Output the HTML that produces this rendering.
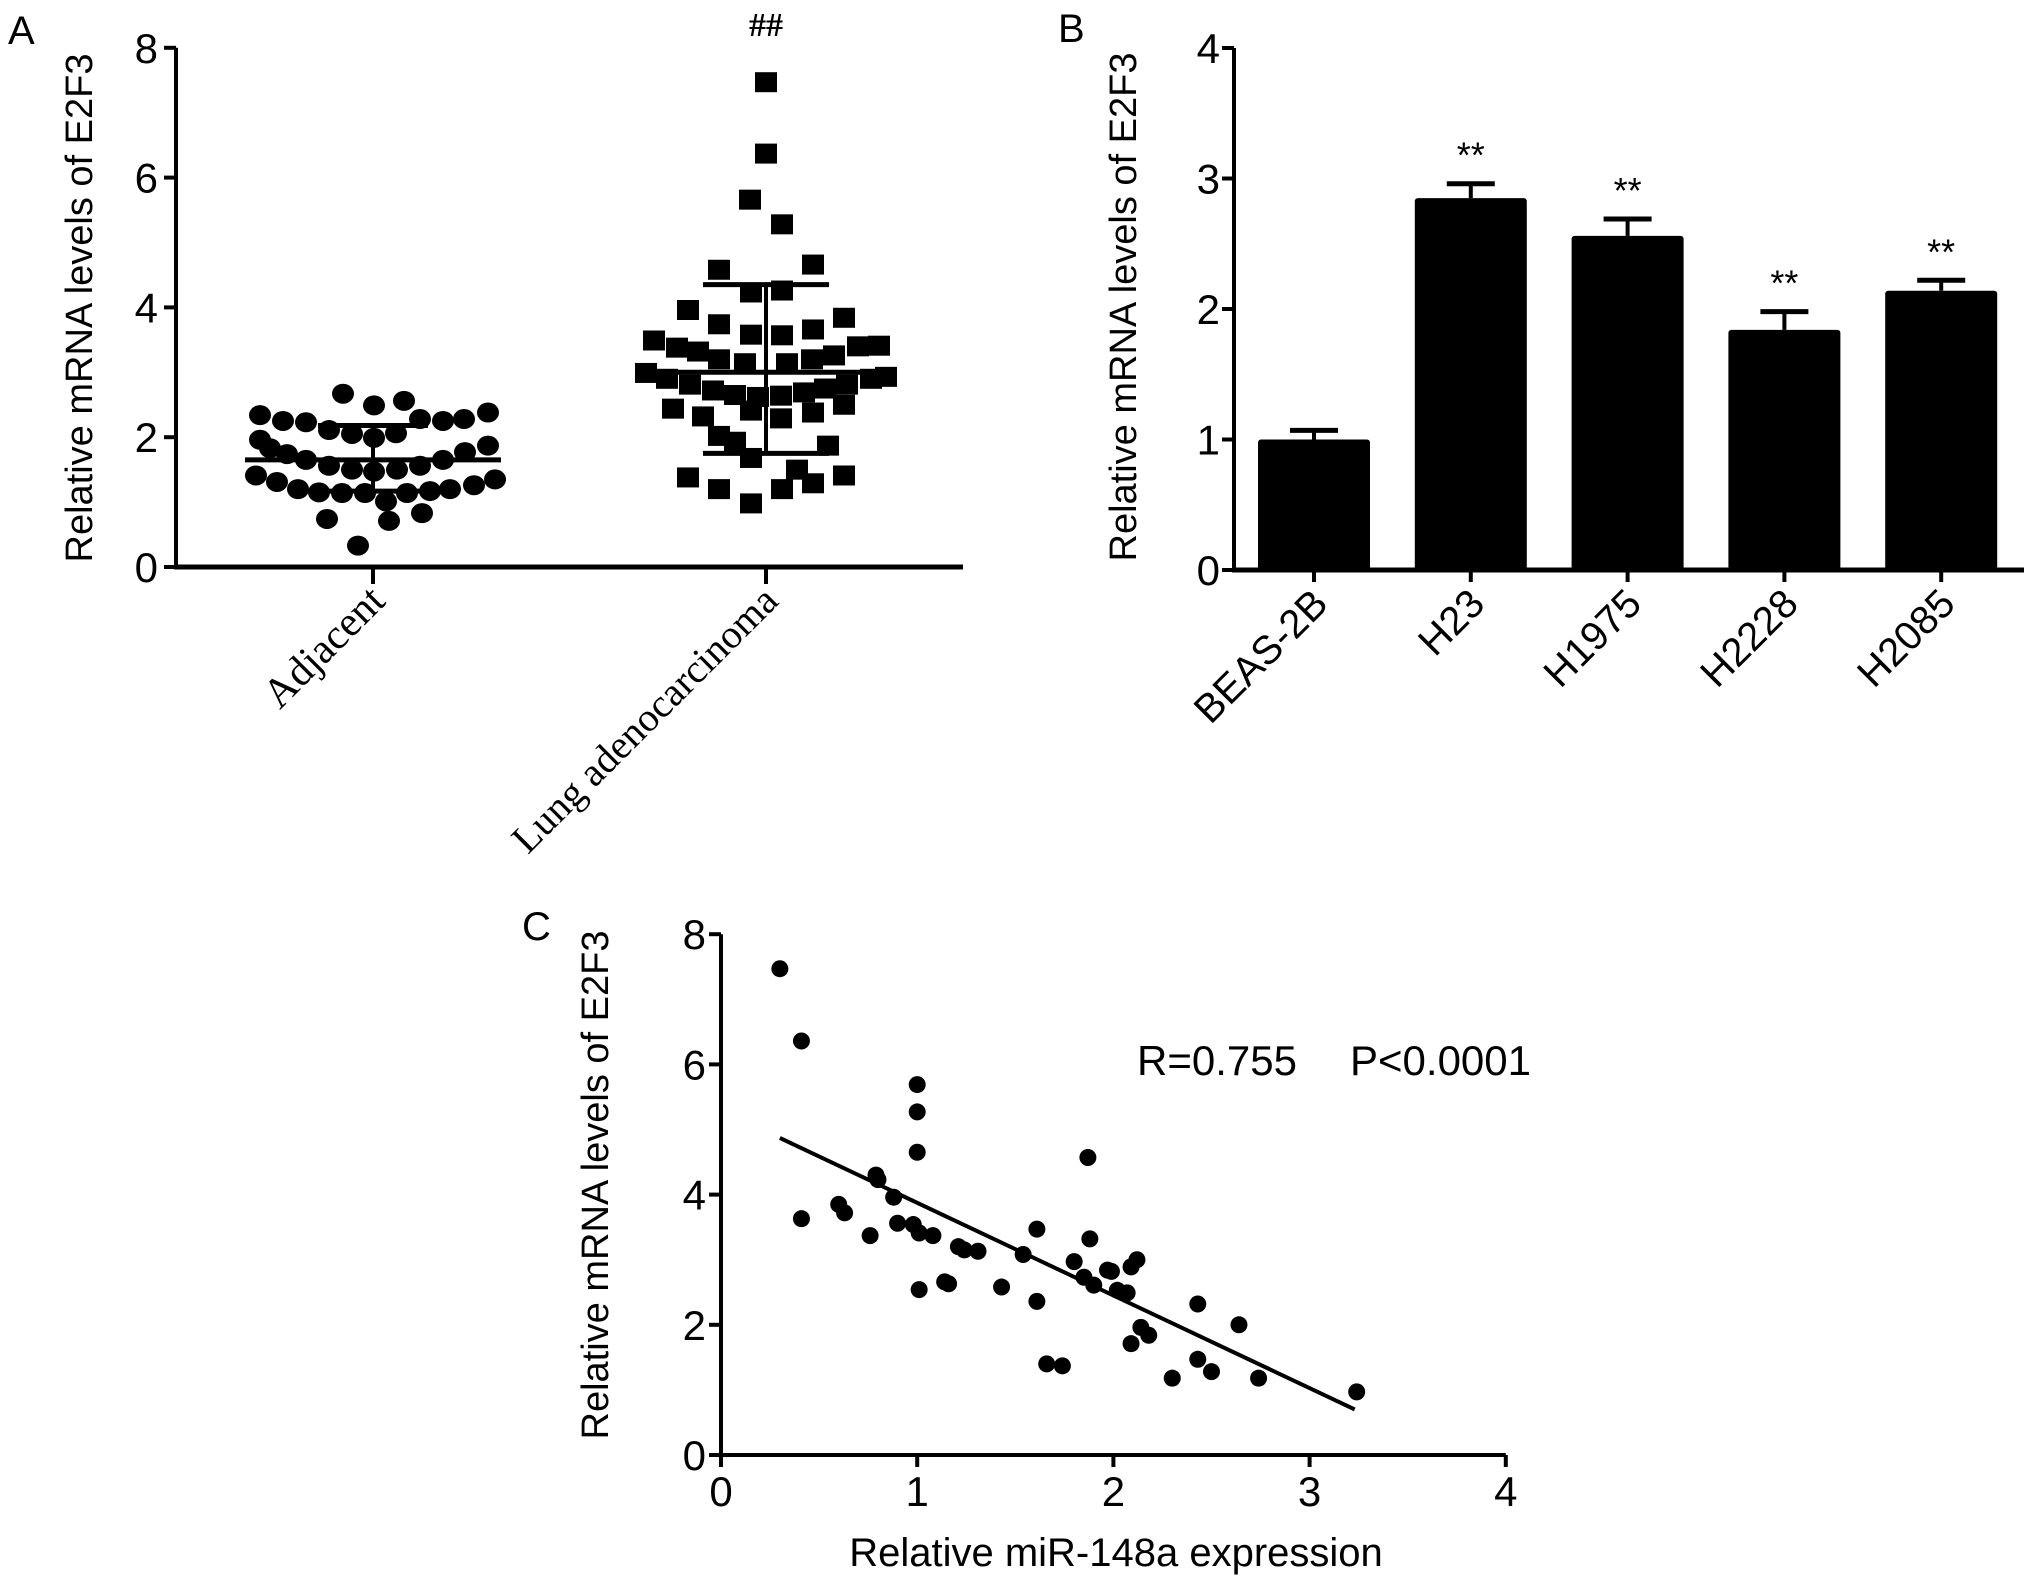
<!DOCTYPE html>
<html><head><meta charset="utf-8"><style>
html,body{margin:0;padding:0;background:#fff;}
svg{display:block;font-family:"Liberation Sans",Arial,sans-serif;}
</style></head><body>
<svg id="fig" width="2031" height="1585" viewBox="0 0 2031 1585"></svg>
<script>
// Panel A data
const adjValues=[2.67,2.49,2.56,2.34,2.25,2.23,2.11,2.05,1.99,2.06,2.28,2.25,2.28,2.38,1.96,1.83,1.74,1.65,1.56,1.50,1.47,1.50,1.56,1.65,1.77,1.87,1.41,1.31,1.20,1.15,1.14,1.14,1.01,1.14,1.17,1.20,1.26,1.35,0.74,0.71,0.83,0.33];
const adjJitter=[-30,1,31,-113,-90,-67,-44,-21,1,23,47,70,91,115,-113,-103,-86,-67,-44,-21,1,24,47,70,92,115,-117,-96,-75,-54,-31,-8,13,34,57,77,101,122,-46,16,49,-15];
const lungValues=[7.47,6.37,5.66,5.28,4.58,4.66,4.23,4.26,3.96,3.84,3.74,3.58,3.57,3.66,3.49,3.38,3.32,3.20,3.14,3.14,3.20,3.26,3.40,3.41,2.99,2.90,2.81,2.72,2.65,2.62,2.64,2.69,2.75,2.81,2.90,2.93,2.44,2.32,2.41,2.29,2.38,2.50,2.02,1.93,1.68,1.87,1.38,1.20,0.98,1.20,1.50,1.29,1.41];
const lungJitter=[0,0,-16,16,-47,47,-15,16,-78,78,-47,-15,16,47,-112,-89,-68,-47,-21,21,46,68,92,113,-120,-99,-76,-53,-31,-8,15,38,59,81,105,120,-93,-63,-15,15,47,78,-47,-31,-15,62,-78,-47,-15,16,31,47,78];
const adjMean=1.65, adjSD=[1.17,2.18];
const lungMean=3.0, lungSD=[1.75,4.35];
const aTicks=[0,2,4,6,8];
// Panel B data
const bCats=["BEAS-2B","H23","H1975","H2228","H2085"];
const bVals=[1.0,2.85,2.56,1.84,2.14];
const bErr=[0.07,0.11,0.13,0.14,0.08];
const bTicks=[0,1,2,3,4];
// Panel C data
const cX=[0.30,0.41,0.41,0.60,0.63,0.76,0.79,0.80,0.88,0.90,0.98,1.0,1.0,1.0,1.01,1.08,1.01,1.14,1.16,1.21,1.24,1.31,1.43,1.54,1.61,1.61,1.66,1.74,1.80,1.85,1.87,1.88,1.90,1.97,1.99,2.02,2.07,2.09,2.09,2.12,2.14,2.18,2.30,2.43,2.43,2.50,2.64,2.74,3.24];
const cY=[7.47,6.36,3.63,3.85,3.72,3.37,4.30,4.23,3.96,3.56,3.54,5.69,5.27,4.65,3.41,3.37,2.54,2.66,2.63,3.20,3.15,3.13,2.58,3.08,3.47,2.36,1.40,1.37,2.97,2.73,4.57,3.32,2.61,2.84,2.82,2.53,2.49,1.71,2.89,3.0,1.96,1.84,1.18,2.32,1.47,1.28,2.0,1.18,0.97];
const cFit=[[0.30,4.87],[3.23,0.70]];
const cXTicks=[0,1,2,3,4], cYTicks=[0,2,4,6,8];

const NS="http://www.w3.org/2000/svg";
const svg=document.getElementById('fig');
function mk(tag,attrs,parent,text){const e=document.createElementNS(NS,tag);for(const k in attrs)e.setAttribute(k,attrs[k]);if(text!==undefined)e.textContent=text;(parent||svg).appendChild(e);return e;}
function line(x1,y1,x2,y2,w,p){return mk('line',{x1,y1,x2,y2,stroke:'#000','stroke-width':w||4},p);}
const TF=42, AF=38;

// ---------- Panel A ----------
const gA=mk('g',{});


const ay=v=>567-v*64.9;
const ax=[373,766];
let t=mk('text',{x:8,y:44,'font-size':40},gA,'A');

line(176,ay(8),176,569,4,gA);line(174,567,963,567,5,gA);
aTicks.forEach(v=>{line(164,ay(v),176,ay(v),4,gA);
 const e=mk('text',{x:158,y:ay(v)+15,'font-size':TF,'text-anchor':'end'},gA,String(v));
 });
ax.forEach(x=>line(x,567,x,584,4,gA));
t=mk('text',{x:0,y:0,'font-size':AF,'text-anchor':'middle',transform:'translate(92,308) rotate(-90)'},gA,'Relative mRNA levels of E2F3');

[['Adjacent',ax[0],42],['Lung adenocarcinoma',ax[1],40]].forEach(([s,x,f],i)=>{
 const e=mk('text',{x:0,y:0,'font-size':f,'text-anchor':'end','font-family':'"Liberation Serif",serif',transform:`translate(${x+14},${603}) rotate(-45)`},gA,s);
 });
adjValues.forEach((v,i)=>{const c=mk('ellipse',{cx:ax[0]+adjJitter[i],cy:ay(v),rx:11,ry:10,fill:'#000'},gA);
 });
lungValues.forEach((v,i)=>{const r=mk('rect',{x:ax[1]+lungJitter[i]-11,y:ay(v)-10,width:22,height:20,fill:'#000'},gA);
 });
[[ax[0],adjMean,adjSD,128,55],[ax[1],lungMean,lungSD,128,63]].forEach(([x,m,sd,hw,ww])=>{
 line(x-hw,ay(m),x+hw,ay(m),5,gA);line(x,ay(sd[0]),x,ay(sd[1]),4,gA);
 line(x-ww,ay(sd[0]),x+ww,ay(sd[0]),5,gA);line(x-ww,ay(sd[1]),x+ww,ay(sd[1]),5,gA);});
t=mk('text',{x:766,y:36,'font-size':34,'text-anchor':'middle','font-family':'"Liberation Serif",serif','font-weight':'bold'},gA,'##');


// ---------- Panel B ----------
const gB=mk('g',{});


const by=v=>570-v*130.5;
const bx=i=>1314+i*156.8;
t=mk('text',{x:1058,y:42,'font-size':40},gB,'B');

bVals.forEach((v,i)=>{
 const x=bx(i);
 line(x,by(v),x,by(v+bErr[i]),4,gB);line(x-24,by(v+bErr[i]),x+24,by(v+bErr[i]),5,gB);
 const r=mk('rect',{x:x-56,y:by(v),width:112,height:by(0)-by(v),fill:'#000',rx:3},gB);
 
 line(x,570,x,582,4,gB);
 const l=mk('text',{x:0,y:0,'font-size':40,'text-anchor':'end',transform:`translate(${x+16},${606}) rotate(-45)`},gB,bCats[i]);
 
 if(i>0){const s=mk('text',{x:x,y:by(v+bErr[i])-16,'font-size':36,'text-anchor':'middle'},gB,'**');
  }
});
line(1234,by(4),1234,572,4,gB);line(1232,570,2024,570,5,gB);
bTicks.forEach(v=>{line(1222,by(v),1234,by(v),4,gB);
 const e=mk('text',{x:1220,y:by(v)+15,'font-size':TF,'text-anchor':'end'},gB,String(v));
 });
t=mk('text',{x:0,y:0,'font-size':AF,'text-anchor':'middle',transform:'translate(1136,307) rotate(-90)'},gB,'Relative mRNA levels of E2F3');


// ---------- Panel C ----------
const gC=mk('g',{});


const cxs=v=>721+v*196.2, cys=v=>1455-v*65.1;
t=mk('text',{x:522,y:940,'font-size':40},gC,'C');

line(721,cys(8),721,1457,4,gC);line(719,1455,cxs(4),1455,4,gC);
cYTicks.forEach(v=>{line(709,cys(v),721,cys(v),4,gC);
 const e=mk('text',{x:706,y:cys(v)+15,'font-size':TF,'text-anchor':'end'},gC,String(v));
 });
cXTicks.forEach(v=>{line(cxs(v),1455,cxs(v),1467,4,gC);
 const e=mk('text',{x:cxs(v),y:1506,'font-size':TF,'text-anchor':'middle'},gC,String(v));
 });
t=mk('text',{x:0,y:0,'font-size':AF,'text-anchor':'middle',transform:'translate(608,1185) rotate(-90)'},gC,'Relative mRNA levels of E2F3');

t=mk('text',{x:1116,y:1566,'font-size':AF+2,'text-anchor':'middle'},gC,'Relative miR-148a expression');

t=mk('text',{x:1137,y:1075,'font-size':42},gC,'R=0.755');

t=mk('text',{x:1350,y:1075,'font-size':42},gC,'P<0.0001');

cX.forEach((x,i)=>{const c=mk('circle',{cx:cxs(x),cy:cys(cY[i]),r:8.5,fill:'#000'},gC);
 });
const fl=line(cxs(cFit[0][0]),cys(cFit[0][1]),cxs(cFit[1][0]),cys(cFit[1][1]),4,gC);

</script>
</body></html>
